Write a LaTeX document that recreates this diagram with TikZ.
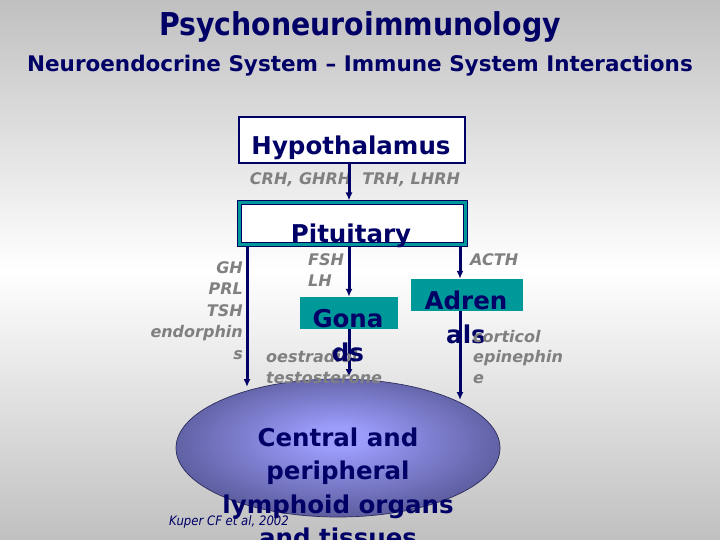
\documentclass[tikz,border=0pt]{standalone}
\usepackage{fontspec}
\setmainfont{DejaVu Sans}
\newfontfamily\headfont{DejaVu Sans}[FakeStretch=0.9]
\usetikzlibrary{arrows.meta,shapes.geometric}

\definecolor{navy}{RGB}{0,0,102}
\definecolor{tealbox}{RGB}{0,153,153}
\definecolor{hormgray}{RGB}{128,128,128}
\definecolor{bggray}{RGB}{192,192,192}
\definecolor{organin}{RGB}{156,156,252}
\definecolor{organout}{RGB}{72,72,128}
\definecolor{organrim}{RGB}{45,45,95}
\pgfdeclareradialshading{organshade}{\pgfpoint{0bp}{4bp}}{color(0bp)=(organin); color(4bp)=(organin); color(34bp)=(organout); color(50bp)=(organout)}

\tikzset{
  bigname/.style={font=\bfseries\fontsize{24.5}{34}\selectfont, text=navy, inner sep=0pt, align=center},
  hormone/.style={font=\bfseries\itshape\fontsize{16}{21.5}\selectfont, text=hormgray, inner sep=0pt},
  gland/.style={fill=tealbox, inner sep=0pt},
  link/.style={navy, line width=3pt},
  feed/.style={link, -{Latex[length=8pt,width=7pt]}}
}

\begin{document}
\begin{tikzpicture}[x=1pt,y=-1pt]
\useasboundingbox (0,0) rectangle (720,540);
\fill [top color=bggray, bottom color=bggray, middle color=white] (0,0) rectangle (720,540);

% titles
\node [font=\headfont\bfseries\fontsize{31.5}{36}\selectfont, text=navy, anchor=base] (title) at (360,36) {Psychoneuroimmunology};
\node [font=\bfseries\fontsize{21.5}{26}\selectfont, text=navy, anchor=base] (subtitle) at (360,72) {Neuroendocrine System -- Immune System Interactions};

% lymphoid organs
\node [ellipse, minimum width=324pt, minimum height=138pt, shading=organshade,
       draw=organrim, line width=0.7pt] (lymph) at (338,448) {};
\node [font=\headfont\itshape\fontsize{13}{15}\selectfont, text=navy, anchor=base west, inner sep=0pt] (cite) at (169,525) {Kuper CF et al, 2002};
% anchor=base is the last line
\node [bigname, font=\bfseries\fontsize{24.5}{33.5}\selectfont, anchor=base] (lymphtxt) at (338,546.5) {Central and\\peripheral\\lymphoid organs\\and tissues};

% boxes
\node [draw=navy, line width=1.5pt, fill=white, minimum width=226pt, minimum height=46pt] (hyp) at (352,140) {};
\node [bigname, anchor=base] (hyptxt) at (351,155) {Hypothalamus};
\node [fill=white, draw=navy, line width=5pt, postaction={draw=tealbox, line width=3pt},
       minimum width=226pt, minimum height=41pt] (pit) at (352,223.5) {};
\node [bigname, anchor=base] (pittxt) at (351,242) {Pituitary};
\node [gland, minimum width=98pt, minimum height=32pt] (gon) at (349,313) {};
\node [gland, minimum width=112pt, minimum height=32pt] (adr) at (467,295) {};

% arrow ends on the ellipse
\coordinate (lend) at (247,387);
\coordinate (cend) at (349,377);
\coordinate (rend) at (460,400);

\node [hormone, anchor=base] (rh) at (355,185) {CRH, GHRH\ \ TRH, LHRH};
\draw [feed] (hyp.south -| gon) -- (pit.north -| gon);

\draw [feed] (pit.south -| lend) -- (lend);
\draw [feed] (pit.south -| gon) -- (gon.north);
\draw [feed] (gon.south) -- (cend);
\draw [feed] (pit.south -| rend) -- (rend |- adr.north);
\draw [feed] (rend |- adr.south) -- (rend);

% hormones
\node [hormone, anchor=base east, align=right] (ant) at (243,359) {GH\\PRL\\TSH\\endorphin\\s};
\node [hormone, anchor=base west, align=left] (fsh) at (308,286.5) {FSH\\LH};
\node [hormone, anchor=base west] (acth) at (470,265) {ACTH};
\node [hormone, anchor=base west, align=left, font=\bfseries\itshape\fontsize{16}{21}\selectfont] (sex) at (266,383) {oestradiol\\testosterone};

\node [bigname, anchor=base] (gontxt) at (348,361) {Gona\\ds};
\node [bigname, anchor=base] (adrtxt) at (466,343) {Adren\\als};

\node [hormone, anchor=base west, align=left, font=\bfseries\itshape\fontsize{16}{20.5}\selectfont] (cort) at (473,383) {corticol\\epinephin\\e};
\end{tikzpicture}
\end{document}
